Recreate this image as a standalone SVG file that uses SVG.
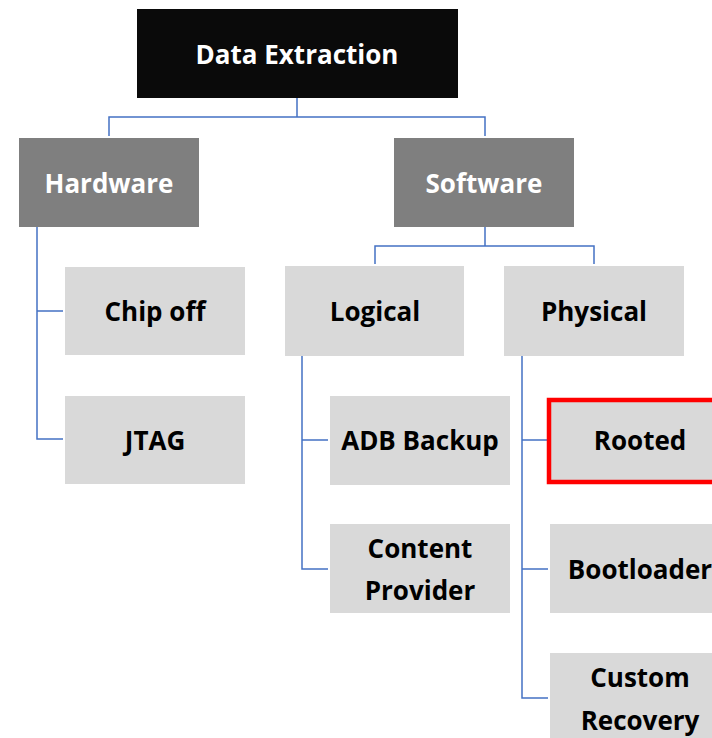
<svg xmlns="http://www.w3.org/2000/svg" width="712" height="738" viewBox="0 0 712 738">
<style>
.t{font-family:"Open Sans","Noto Sans",sans-serif;font-weight:bold;font-size:26px;text-anchor:middle;dominant-baseline:central}
.w{fill:#ffffff}
.k{fill:#000000}
.lt{fill:#d9d9d9}
.dk{fill:#7f7f7f}
.c{fill:none;stroke:#4472c4;stroke-width:1.5}
</style>
<rect width="712" height="738" fill="#ffffff"/>
<g id="connectors">
<path class="c" d="M297 98V117M109 136V117H485V136"/>
<path class="c" d="M485 227V246M375 264V246H594V264"/>
<path class="c" d="M37 227V439H63M37 311H63"/>
<path class="c" d="M302 356V569H328M302 440H328"/>
<path class="c" d="M522 356V698H548M522 440H548M522 569H548"/>
</g>
<g id="data-extraction"><rect x="137" y="9" width="321" height="89" fill="#0a0a0a"/><text class="t w" x="297" y="54">Data Extraction</text></g>
<g id="hardware"><rect class="dk" x="19" y="138" width="180" height="89"/><text class="t w" x="109" y="183">Hardware</text></g>
<g id="software"><rect class="dk" x="394" y="138" width="180" height="89"/><text class="t w" x="484" y="183">Software</text></g>
<g id="chip-off"><rect class="lt" x="65" y="267" width="180" height="88"/><text class="t k" x="155" y="311">Chip off</text></g>
<g id="jtag"><rect class="lt" x="65" y="396" width="180" height="88"/><text class="t k" x="155" y="440">JTAG</text></g>
<g id="logical"><rect class="lt" x="285" y="266" width="179" height="90"/><text class="t k" x="375" y="311">Logical</text></g>
<g id="physical"><rect class="lt" x="504" y="266" width="180" height="90"/><text class="t k" x="594" y="311">Physical</text></g>
<g id="adb-backup"><rect class="lt" x="330" y="396" width="180" height="89"/><text class="t k" x="420" y="440">ADB Backup</text></g>
<g id="content-provider"><rect class="lt" x="330" y="524" width="180" height="89"/><text class="t k" x="420" y="548">Content</text><text class="t k" x="420" y="590">Provider</text></g>
<g id="rooted"><rect class="lt" x="549" y="400" width="180" height="82" stroke="#ff0000" stroke-width="4.5"/><text class="t k" x="640" y="440">Rooted</text></g>
<g id="bootloader"><rect class="lt" x="550" y="524" width="180" height="89"/><text class="t k" x="640" y="569">Bootloader</text></g>
<g id="custom-recovery"><rect class="lt" x="550" y="653" width="180" height="89"/><text class="t k" x="640" y="677">Custom</text><text class="t k" x="640" y="720">Recovery</text></g>
</svg>
